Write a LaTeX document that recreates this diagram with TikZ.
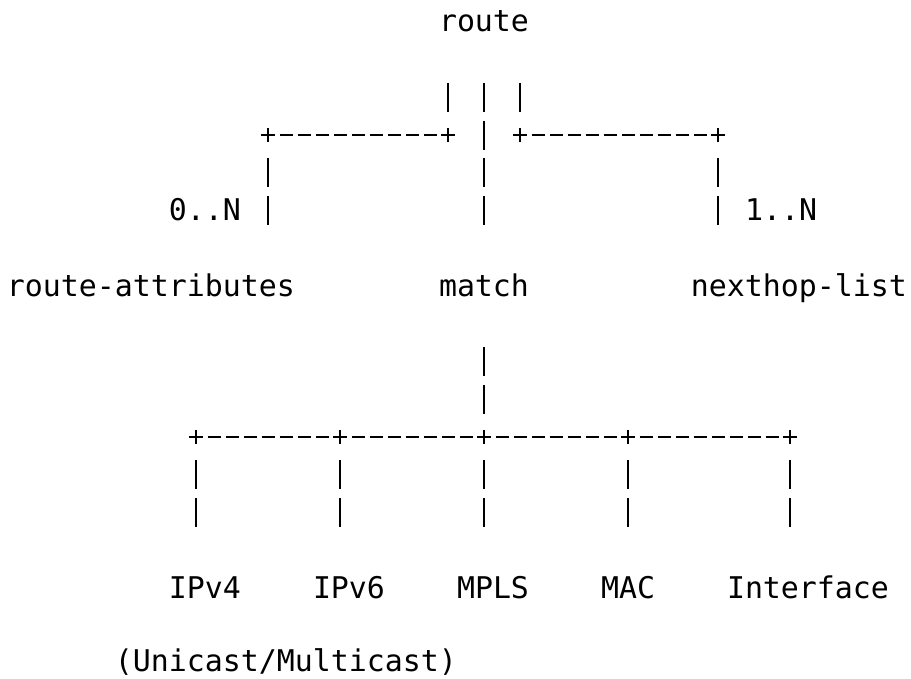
\documentclass[tikz,border=0pt]{standalone}
\usepackage{fontspec}
\setmonofont{DejaVu Sans Mono}
\usetikzlibrary{calc}
\begin{document}
\begin{tikzpicture}[x=18pt,y=-37.75pt,
  lbl/.style={font=\ttfamily\fontsize{29.9}{36}\selectfont, inner sep=0pt, text height=21.6pt, text depth=1.6pt},
  vbar/.style={line width=2.4pt, dash pattern=on 29pt off 8.75pt},
  hbar/.style={line width=2.3pt, dash pattern=on 13pt off 5pt, shorten <=11.5pt, shorten >=11.5pt},
  plusnode/.style={inner sep=0pt, minimum width=13pt, minimum height=14pt},
  plusmark/.style={line width=2.3pt}]
\useasboundingbox (-0.8889,-0.5828) rectangle (49.7222,17.404);

% labels
\node[lbl] (route) at (26,0) {route};
\node[lbl] (ra) at (7.5,7) {route-attributes};
\node[lbl] (match) at (26,7) {match};
\node[lbl] (nh) at (43.5,7) {nexthop-list};
\node[lbl] (m0) at (10.5,5) {0..N};
\node[lbl] (m1) at (42.5,5) {1..N};
\node[lbl] (ipv4) at (10.5,15) {IPv4};
\node[lbl] (ipv6) at (18.5,15) {IPv6};
\node[lbl] (mpls) at (26.5,15) {MPLS};
\node[lbl] (mac) at (34,15) {MAC};
\node[lbl] (intf) at (44,15) {Interface};
\node[lbl, yshift=2pt] (uni) at (15,17) {(Unicast/Multicast)};

% junctions
\node[plusnode] (pRL) at (24,3) {};
\node[plusnode] (pRR) at (28,3) {};
\node[plusnode] (pA) at (14,3) {};
\node[plusnode] (pN) at (39,3) {};
\node[plusnode] (p4) at (10,11) {};
\node[plusnode] (p6) at (18,11) {};
\node[plusnode] (pM) at (26,11) {};
\node[plusnode] (pC) at (34,11) {};
\node[plusnode] (pI) at (43,11) {};
\foreach \p in {pRL,pRR,pA,pN,p4,p6,pM,pC,pI}
  \draw[plusmark] (\p.west) -- (\p.east) (\p.north) -- (\p.south);

% route -> route-attributes
\draw[vbar, shorten <=61pt, shorten >=23.25pt] (route.center -| pRL.center) -- (pRL.center);
\draw[hbar] (pRL.center) -- (pA.center);
\draw[vbar, shorten <=23.25pt, shorten >=61pt] (pA.center) -- (pA.center |- ra.center);

% route -> match
\draw[vbar, shorten <=61pt, shorten >=61pt] (route.center) -- (match.center);

% route -> nexthop-list
\draw[vbar, shorten <=61pt, shorten >=23.25pt] (route.center -| pRR.center) -- (pRR.center);
\draw[hbar] (pRR.center) -- (pN.center);
\draw[vbar, shorten <=23.25pt, shorten >=61pt] (pN.center) -- (pN.center |- nh.center);

% match -> children
\draw[vbar, shorten <=61pt, shorten >=23.25pt] (match.center) -- (pM.center);
\draw[hbar] (p4.center) -- (p6.center);
\draw[hbar] (p6.center) -- (pM.center);
\draw[hbar] (pM.center) -- (pC.center);
\draw[hbar] (pC.center) -- (pI.center);
\draw[vbar, shorten <=23.25pt, shorten >=61pt] (p4.center) -- (p4.center |- ipv4.center);
\draw[vbar, shorten <=23.25pt, shorten >=61pt] (p6.center) -- (p6.center |- ipv6.center);
\draw[vbar, shorten <=23.25pt, shorten >=61pt] (pM.center) -- (pM.center |- mpls.center);
\draw[vbar, shorten <=23.25pt, shorten >=61pt] (pC.center) -- (pC.center |- mac.center);
\draw[vbar, shorten <=23.25pt, shorten >=61pt] (pI.center) -- (pI.center |- intf.center);
\end{tikzpicture}
\end{document}
